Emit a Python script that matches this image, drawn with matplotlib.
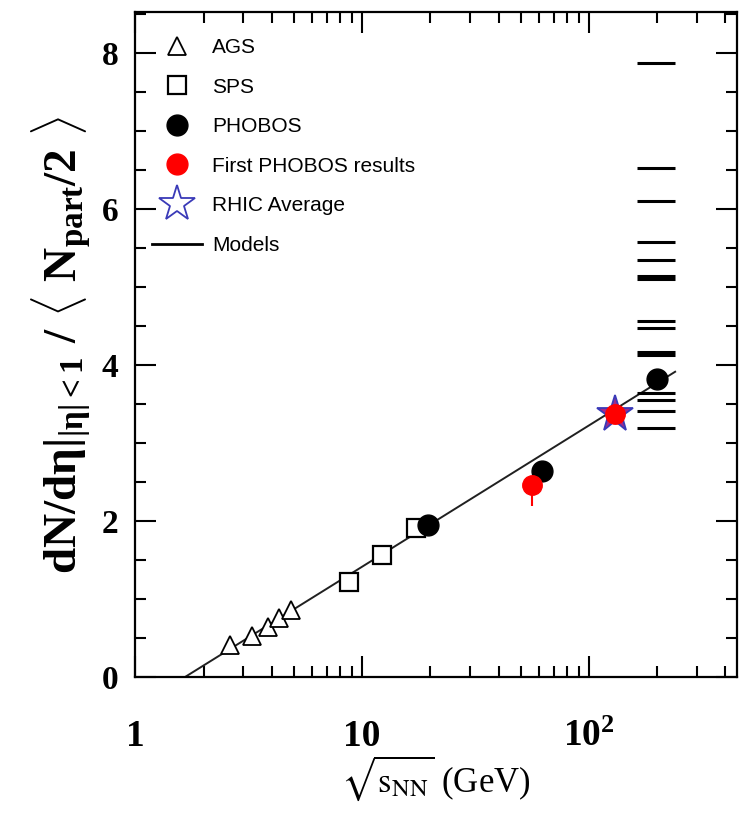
import numpy as np
import matplotlib
matplotlib.use("Agg")
import matplotlib.pyplot as plt
from matplotlib.ticker import FixedLocator, LogLocator, MultipleLocator, NullFormatter
from matplotlib.lines import Line2D

plt.rcParams['mathtext.fontset'] = 'custom'
plt.rcParams['mathtext.rm'] = 'Liberation Serif:bold'
plt.rcParams['mathtext.it'] = 'Liberation Serif:bold'
plt.rcParams['mathtext.bf'] = 'Liberation Serif:bold'

# data
ags_x = [2.63, 3.28, 3.84, 4.29, 4.86]
ags_y = [0.41, 0.53, 0.64, 0.76, 0.86]
sps_x = [8.77, 12.3, 17.3]
sps_y = [1.22, 1.57, 1.91]
phobos_x = [19.6, 62.4, 200.0]
phobos_y = [1.95, 2.64, 3.82]
first_x = [56.0, 130.0]
first_y = [2.47, 3.37]
first_err = [0.28, 0.0]
rhic_x = [130.0]
rhic_y = [3.37]
model_y = [7.87, 6.52, 6.10, 5.58, 5.35, 5.10, 5.14, 4.57, 4.47, 4.13, 4.17,
           3.64, 3.55, 3.41, 3.20]
model_x = [163.0, 239.0]
fit_slope = 1.81       # per decade
fit_x0 = 1.65          # where fit crosses zero
fit_range = [1.65, 240.0]

fig = plt.figure(figsize=(7.43, 8.18), dpi=100)
ax = fig.add_axes([0.182, 0.172, 0.81, 0.813])

# fit line
fx = np.logspace(np.log10(fit_range[0]), np.log10(fit_range[1]), 50)
fy = fit_slope * np.log10(fx / fit_x0)
ax.plot(fx, fy, color='#202020', lw=1.4, zorder=2)

# models
for y in model_y:
    ax.plot(model_x, [y, y], color='black', lw=2.2, solid_capstyle='butt', zorder=2)

ax.plot(ags_x, ags_y, ls='none', marker='^', ms=13, mfc='white', mec='black', mew=1.3, zorder=3)
ax.plot(sps_x, sps_y, ls='none', marker='s', ms=13, mfc='white', mec='black', mew=1.6, zorder=3)
ax.errorbar(first_x[:1], first_y[:1], yerr=[first_err[:1], [0.0]], fmt='none',
            ecolor='red', elinewidth=1.5, capsize=0, zorder=3)
ax.plot(phobos_x, phobos_y, ls='none', marker='o', ms=15, mfc='black', mec='black', zorder=4)
ax.plot(rhic_x, rhic_y, ls='none', marker='*', ms=28, mfc='#a02a8a', mec='#3a3ab8', mew=1.3, zorder=5)
ax.plot(first_x, first_y, ls='none', marker='o', ms=14, mfc='red', mec='red', zorder=6)

ax.set_xscale('log')
ax.set_xlim(1, 450)
ax.set_ylim(0, 8.52)

ax.xaxis.set_major_locator(FixedLocator([1, 10, 100]))
ax.xaxis.set_minor_locator(LogLocator(base=10, subs=np.arange(2, 10), numticks=20))
ax.xaxis.set_minor_formatter(NullFormatter())
ax.set_xticklabels(['1', '10', r'$10^{2}$'])
ax.yaxis.set_major_locator(MultipleLocator(2))
ax.yaxis.set_minor_locator(MultipleLocator(0.5))

ax.tick_params(which='both', direction='in', top=True, right=True, width=1.5)
ax.tick_params(which='major', length=15)
ax.tick_params(which='minor', length=8)
ax.tick_params(axis='x', which='major', labelsize=27, pad=30)
ax.tick_params(axis='y', which='major', labelsize=24, pad=12)
for lab in ax.get_xticklabels() + ax.get_yticklabels():
    lab.set_family('Liberation Serif')
    lab.set_fontweight('bold')
for s in ax.spines.values():
    s.set_linewidth(1.6)

ax.set_xlabel(r'$\sqrt{\mathrm{s}_{\mathrm{NN}}}$ (GeV)', fontsize=25, family='Liberation Serif',
              math_fontfamily='stix', labelpad=0)
ax.set_ylabel(r'$dN/d\eta|_{|\eta|<1}\ /\ \langle\ N_{part}/2\ \rangle$', fontsize=34,
              labelpad=6)

handles = [
    Line2D([], [], ls='none', marker='^', ms=13, mfc='white', mec='black', mew=1.3),
    Line2D([], [], ls='none', marker='s', ms=13, mfc='white', mec='black', mew=1.6),
    Line2D([], [], ls='none', marker='o', ms=15, mfc='black', mec='black'),
    Line2D([], [], ls='none', marker='o', ms=15, mfc='red', mec='red'),
    Line2D([], [], ls='none', marker='*', ms=27, mfc='white', mec='#3a3ab8', mew=1.3),
    Line2D([], [], color='black', lw=2),
]
labels = ['AGS', 'SPS', 'PHOBOS', 'First PHOBOS results', 'RHIC Average', 'Models']
leg = ax.legend(handles, labels, loc='upper left', frameon=False, handlelength=2.4,
                handletextpad=0.5, labelspacing=0.99, borderaxespad=0,
                bbox_to_anchor=(0.014, 0.974),
                prop={'family': 'Liberation Sans', 'size': 15})

fig.savefig('out.png', dpi=100)
